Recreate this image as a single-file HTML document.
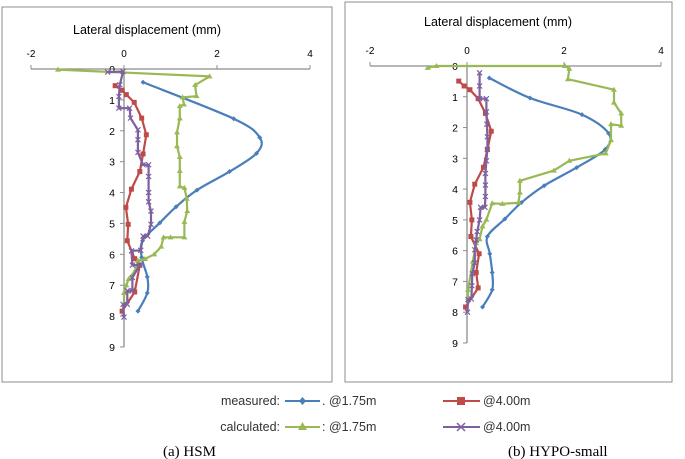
<!DOCTYPE html>
<html><head><meta charset="utf-8"><style>
body{margin:0;background:#fff;}
svg{display:block;font-family:"Liberation Sans",sans-serif;}
</style></head><body>
<svg id="c" width="685" height="459" viewBox="0 0 685 459">
<rect x="2" y="7" width="330" height="375" fill="#fff" stroke="#8c8c8c" stroke-width="1"/>
<rect x="345" y="2" width="327" height="380" fill="#fff" stroke="#8c8c8c" stroke-width="1"/>
<g id="pa"></g>
<g id="pb"></g>
<g font-size="12.5" fill="#333">
<text x="280" y="405" text-anchor="end">measured:</text>
<line x1="285" y1="401" x2="320" y2="401" stroke="#4a7ebb" stroke-width="2"/>
<path d="M302.5 397 L306 401 L302.5 405 L299 401Z" fill="#4a7ebb"/>
<text x="322" y="405">. @1.75m</text>
<line x1="443" y1="401" x2="480" y2="401" stroke="#be4b48" stroke-width="2"/>
<rect x="457" y="397" width="8" height="8" fill="#be4b48"/>
<text x="483" y="405">@4.00m</text>
<text x="280" y="431" text-anchor="end">calculated:</text>
<line x1="285" y1="427" x2="320" y2="427" stroke="#98b954" stroke-width="2"/>
<path d="M302.5 422 L307 430 L298 430Z" fill="#98b954"/>
<text x="322" y="431">: @1.75m</text>
<line x1="443" y1="427" x2="480" y2="427" stroke="#7d60a0" stroke-width="2"/>
<path d="M457 423 L465 431 M465 423 L457 431" stroke="#7d60a0" stroke-width="1.5"/>
<text x="483" y="431">@4.00m</text>
</g>
<text x="163" y="456" font-family="Liberation Serif,serif" font-size="15" fill="#000">(a) HSM</text>
<text x="508" y="456" font-family="Liberation Serif,serif" font-size="15" fill="#000">(b) HYPO-small</text>
</svg>
<script>
const xTicks=[-2,0,2,4];
const yTicks=[0,1,2,3,4,5,6,7,8,9];
const seriesNames=["measured-175","measured-400","calculated-175","calculated-400"];
const aBlueX=[0.41,2.36,2.92,2.85,2.27,1.57,1.12,0.77,0.40,0.38,0.50,0.50,0.30];
const aBlueY=[0.43,1.61,2.22,2.73,3.32,3.92,4.46,4.98,5.56,6.1,6.73,7.25,7.84];
const aRedX=[-0.19,-0.04,0.05,0.22,0.38,0.48,0.41,0.34,0.16,0.04,0.09,0.07,0.23,0.34,0.23,-0.04];
const aRedY=[0.54,0.69,0.83,1.08,1.59,2.13,2.75,3.32,3.89,4.48,5.03,5.56,6.14,6.35,7.22,7.84];
const aGreenX=[-1.42,1.84,1.53,1.56,1.26,1.29,1.2,1.2,1.14,1.14,1.2,1.2,1.2,1.3,1.35,1.36,1.3,1.3,1.0,0.85,0.8,0.65,0.45,0.3,0.25,0.1,0.05,0,0];
const aGreenY=[0.02,0.24,0.52,0.88,0.92,1.15,1.2,1.6,2.05,2.5,2.85,3.3,3.8,3.85,4.2,4.6,4.95,5.45,5.45,5.45,5.75,6.0,6.15,6.2,6.5,6.8,7.0,7.25,7.6];
const aPurpleX=[-0.35,-0.02,-0.09,-0.11,-0.11,0.12,0.14,0.3,0.3,0.3,0.41,0.53,0.53,0.53,0.53,0.58,0.58,0.51,0.41,0.36,0.16,0.18,0.34,0.18,0.18,0.07,0.07,-0.02,0];
const aPurpleY=[0.1,0.08,0.51,0.89,1.27,1.27,1.59,1.97,2.29,2.7,3.1,3.1,3.48,4.0,4.3,4.6,5.03,5.41,5.41,5.87,5.89,6.35,6.35,6.75,7.18,7.18,7.62,7.62,8.03];
const bBlueX=[0.46,1.30,2.37,2.92,2.85,2.26,1.59,1.12,0.78,0.42,0.47,0.52,0.52,0.32];
const bBlueY=[0.39,1.04,1.58,2.19,2.71,3.30,3.89,4.44,4.97,5.54,6.1,6.71,7.27,7.83];
const bRedX=[-0.17,-0.06,0.06,0.23,0.38,0.5,0.42,0.34,0.16,0.06,0.1,0.08,0.25,0.19,0.23,-0.03];
const bRedY=[0.49,0.65,0.77,1.06,1.54,2.12,2.71,3.29,3.84,4.43,5.0,5.54,6.1,6.71,7.21,7.83];
const bGreenX=[-0.81,-0.63,2.02,2.11,2.08,3.03,3.03,3.18,3.18,2.97,2.97,2.86,2.11,1.79,1.09,1.09,1.06,0.73,0.52,0.40,0.32,0.26,0.19,0.12,0.02,0.02];
const bGreenY=[0.06,0,0,0.09,0.43,0.77,1.19,1.54,1.94,1.89,2.41,2.84,3.08,3.40,3.73,4.11,4.44,4.48,4.46,4.99,5.21,5.63,5.76,6.35,7.27,7.54];
const bPurpleX=[0.26,0.26,0.26,0.4,0.4,0.41,0.42,0.42,0.4,0.38,0.38,0.38,0.37,0.28,0.26,0.21,0.19,0.16,0.16,0.11,0.10,0.09,0.02,0.01];
const bPurpleY=[0.22,0.65,1.06,1.06,1.49,1.89,2.30,2.71,3.08,3.49,3.87,4.24,4.59,4.59,5.0,5.38,5.65,5.97,6.4,6.75,7.14,7.57,7.59,8.0];

const NS="http://www.w3.org/2000/svg";
function mk(p,t,a){const e=document.createElementNS(NS,t);for(const k in a)e.setAttribute(k,a[k]);p.appendChild(e);return e;}
function smooth(P){let d=`M${P[0][0]} ${P[0][1]}`;
  for(let i=0;i<P.length-1;i++){const p0=P[i-1]||P[i],p1=P[i],p2=P[i+1],p3=P[i+2]||p2;
    const c1=[p1[0]+(p2[0]-p0[0])/6,p1[1]+(p2[1]-p0[1])/6],c2=[p2[0]-(p3[0]-p1[0])/6,p2[1]-(p3[1]-p1[1])/6];
    d+=`C${c1[0].toFixed(1)} ${c1[1].toFixed(1)} ${c2[0].toFixed(1)} ${c2[1].toFixed(1)} ${p2[0].toFixed(1)} ${p2[1].toFixed(1)}`;}
  return d;}
function panel(g,x0,x2,y0,y9,titleY,titleX,series){
  const sx=v=>x0+(x2-x0)/2*v, sy=v=>y0+(y9-y0)/9*v;
  const xmin=sx(-2),xmax=sx(4);
  const t=mk(g,'text',{x:titleX,y:titleY,'text-anchor':'middle','font-size':'12.5',fill:'#000'});t.textContent='Lateral displacement (mm)';
  
  
  const xa=mk(g,'line',{x1:xmin,y1:y0,x2:xmax,y2:y0,stroke:'#8c8c8c','stroke-width':1.3});
  
  
  const ya=mk(g,'line',{x1:sx(0),y1:y0,x2:sx(0),y2:sy(9),stroke:'#8c8c8c','stroke-width':1.3});
  
  
  xTicks.forEach(v=>{mk(g,'line',{x1:sx(v),y1:y0-4,x2:sx(v),y2:y0,stroke:'#8c8c8c'});
    const l=mk(g,'text',{x:sx(v),y:y0-12,'text-anchor':'middle','font-size':'10',fill:'#000'});l.textContent=v;
    
    });
  yTicks.forEach(v=>{mk(g,'line',{x1:sx(0)-4,y1:sy(v),x2:sx(0),y2:sy(v),stroke:'#8c8c8c'});
    const l=mk(g,'text',{x:sx(0)-9,y:sy(v)+4,'text-anchor':'end','font-size':'10.5',fill:'#000'});l.textContent=v;
    
    });
  series.forEach((s,i)=>{
    const sg=mk(g,'g',{});
    
    
    const P=s.x.map((v,j)=>[sx(v),sy(s.y[j])]);
    if(s.m==='d')mk(sg,'path',{d:smooth(P),fill:'none',stroke:s.c,'stroke-width':2.2});
    else mk(sg,'polyline',{points:P.map(p=>p[0].toFixed(1)+','+p[1].toFixed(1)).join(' '),fill:'none',stroke:s.c,'stroke-width':2.2,'stroke-linejoin':'round'});
    P.forEach(([X,Y])=>{
      if(s.m==='d')mk(sg,'path',{d:`M${X} ${Y-2.5}L${X+2.5} ${Y}L${X} ${Y+2.5}L${X-2.5} ${Y}Z`,fill:s.c});
      else if(s.m==='s')mk(sg,'rect',{x:X-2.5,y:Y-2.5,width:5,height:5,fill:s.c});
      else if(s.m==='t')mk(sg,'path',{d:`M${X} ${Y-3}L${X+3} ${Y+2}L${X-3} ${Y+2}Z`,fill:s.c});
      else mk(sg,'path',{d:`M${X-2.5} ${Y-2.5}L${X+2.5} ${Y+2.5}M${X+2.5} ${Y-2.5}L${X-2.5} ${Y+2.5}`,stroke:s.c,'stroke-width':1.2});
    });
  });
}
panel(document.getElementById('pa'),124,217,69,347,34,147,[
 {x:aBlueX,y:aBlueY,c:'#4a7ebb',m:'d'},{x:aRedX,y:aRedY,c:'#be4b48',m:'s'},
 {x:aGreenX,y:aGreenY,c:'#98b954',m:'t'},{x:aPurpleX,y:aPurpleY,c:'#7d60a0',m:'x'}]);
panel(document.getElementById('pb'),467,564,66,343,26,498,[
 {x:bBlueX,y:bBlueY,c:'#4a7ebb',m:'d'},{x:bRedX,y:bRedY,c:'#be4b48',m:'s'},
 {x:bGreenX,y:bGreenY,c:'#98b954',m:'t'},{x:bPurpleX,y:bPurpleY,c:'#7d60a0',m:'x'}]);
</script>
</body></html>
